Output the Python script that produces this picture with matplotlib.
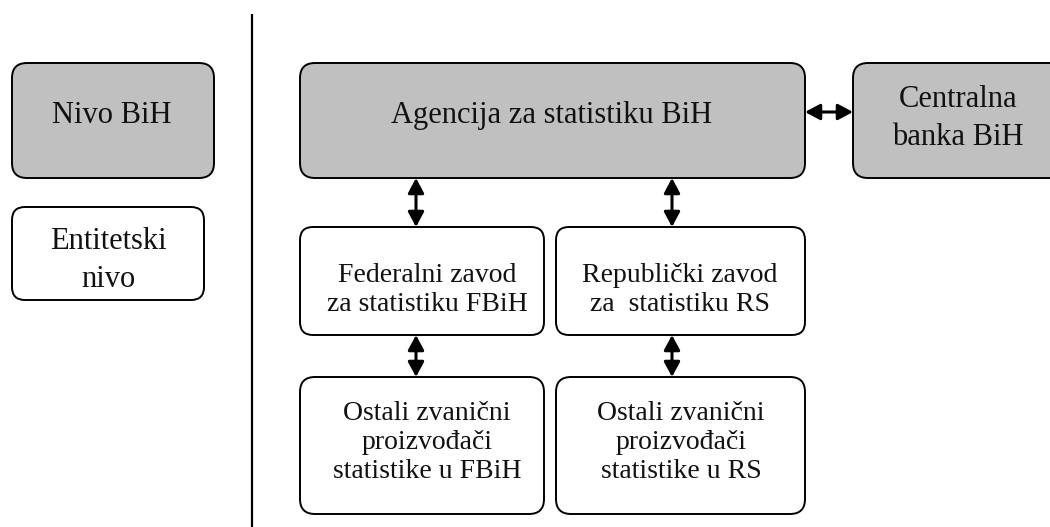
import matplotlib

matplotlib.use("Agg")
import matplotlib.pyplot as plt  # noqa: E402
from matplotlib.patches import FancyBboxPatch, FancyArrowPatch  # noqa: E402

GREY = "#c0c0c0"
FONT = "Liberation Serif"

# box labels (grey = BiH level, white = entity level)
labels = [
    "Nivo BiH",
    "Entitetski\nnivo",
    "Agencija za statistiku BiH",
    "Centralna\nbanka BiH",
    "Federalni zavod\nza statistiku FBiH",
    "Republički zavod\nza  statistiku RS",
    "Ostali zvanični\nproizvođači\nstatistike u FBiH",
    "Ostali zvanični\nproizvođači\nstatistike u RS",
]
filled = [True, False, True, True, False, False, False, False]
big_text = [True, True, True, True, False, False, False, False]

# box geometry in pixels: left, top, right, bottom
boxes = [
    (12, 63, 214, 178),
    (12, 207, 204, 300),
    (300, 63, 805, 178),
    (853, 63, 1075, 178),
    (300, 227, 544, 335),
    (556, 227, 805, 335),
    (300, 377, 544, 514),
    (556, 377, 805, 514),
]
# text centre x and last-line baseline y
text_x = [112, 108, 552, 958, 427, 680, 427, 681]
text_y = [123, 287, 123, 145, 311, 311, 478, 478]

# double arrows: (x0, y0, x1, y1)
arrows = [
    (805, 112, 853, 112),
    (416, 178, 416, 227),
    (672, 178, 672, 227),
    (416, 335, 416, 377),
    (672, 335, 672, 377),
]

fig = plt.figure(figsize=(10.5, 5.27), dpi=100)
ax = fig.add_axes([0, 0, 1, 1])
ax.set_xlim(0, 1050)
ax.set_ylim(527, 0)
ax.axis("off")

# divider between level column and organisations
ax.plot([252, 252], [14, 527], color="black", lw=1.6, solid_capstyle="butt")

for lab, fill, big, (l, t, r, b), tx, ty in zip(labels, filled, big_text, boxes, text_x, text_y):
    rad = 15 if (b - t) > 110 else 13
    p = FancyBboxPatch((l + rad, t + rad), (r - l) - 2 * rad, (b - t) - 2 * rad,
                       boxstyle=f"round,pad={rad}", fc=GREY if fill else "white",
                       ec="black", lw=1.4)
    ax.add_patch(p)
    ax.text(tx, ty, lab, ha="center", va="baseline", fontsize=22 if big else 20,
            family=FONT, linespacing=1.4 if big else 1.22, color="#111111")

for x0, y0, x1, y1 in arrows:
    ax.add_patch(FancyArrowPatch((x0, y0), (x1, y1),
                                 arrowstyle="<|-|>,head_length=0.45,head_width=0.24",
                                 mutation_scale=20, lw=2.2, color="black",
                                 shrinkA=0, shrinkB=0))

fig.savefig("out.png", dpi=100)
